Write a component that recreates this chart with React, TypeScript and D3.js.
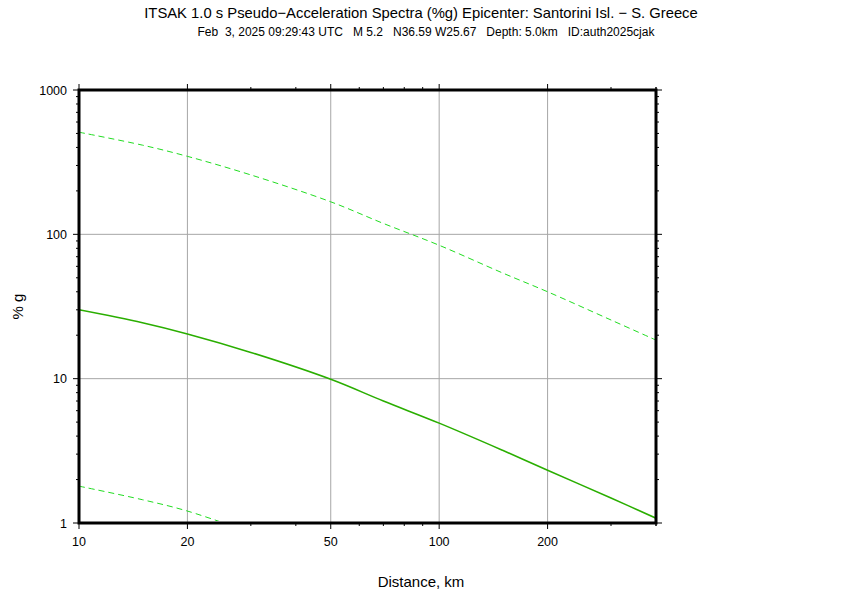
import React from "react";
import * as d3 from "d3";

const distances = [10, 15, 20, 30, 50, 70, 100, 150, 200, 300, 400];
const median = [30.0, 24.4, 20.4, 15.2, 9.9, 7.0, 4.92, 3.19, 2.32, 1.49, 1.08];
const upper = [510, 415, 347, 258, 168, 119, 84, 54, 40, 25.5, 18.5];
const lowerDist = [10, 15, 20, 30];
const lower = [1.80, 1.45, 1.21, 0.86];

const xTickLabels = [10, 20, 50, 100, 200];
const yTickLabels = [1, 10, 100, 1000];

const title = "ITSAK 1.0 s Pseudo\u2212Acceleration Spectra (%g) Epicenter: Santorini Isl. \u2212 S. Greece";
const subtitle = "Feb  3, 2025 09:29:43 UTC   M 5.2   N36.59 W25.67   Depth: 5.0km   ID:auth2025cjak";

export default function App() {
  const W = 842, H = 595;
  const left = 79, right = 656, top = 90, bottom = 523;
  const x = d3.scaleLog().domain([10, 400]).range([left, right]);
  const y = d3.scaleLog().domain([1, 1000]).range([bottom, top]);

  const xMinor: number[] = [];
  for (let d = 10; d <= 100; d *= 10) for (let k = 1; k < 10; k++) { const v = d * k; if (v >= 10 && v <= 400) xMinor.push(v); }
  xMinor.push(400);
  const yMinor: number[] = [];
  for (let d = 1; d < 1000; d *= 10) for (let k = 2; k < 10; k++) yMinor.push(d * k);

  const line = d3.line<[number, number]>().x(p => x(p[0])).y(p => y(p[1])).curve(d3.curveCatmullRom.alpha(0.5));
  const medPath = line(distances.map((d, i) => [d, median[i]] as [number, number]))!;
  const upPath = line(distances.map((d, i) => [d, upper[i]] as [number, number]))!;
  const lowPath = line(lowerDist.map((d, i) => [d, lower[i]] as [number, number]))!;

  const font = "'Liberation Sans', Arial, Helvetica, sans-serif";

  return (
    <svg width={W} height={H} style={{ position: "absolute", left: 0, top: 0, background: "#fff" }} fontFamily={font}>
      <defs>
        <clipPath id="plotclip"><rect x={left} y={top} width={right - left} height={bottom - top - 2} /></clipPath>
      </defs>
      <text x={421} y={18} textAnchor="middle" fontSize={14.8}>{title}</text>
      <text x={426} y={36} textAnchor="middle" fontSize={12} style={{ whiteSpace: "pre" }}>{subtitle}</text>

      {/* grid */}
      {xTickLabels.map(v => (
        <line key={"gx" + v} x1={x(v)} x2={x(v)} y1={top} y2={bottom} stroke="#a6a6a6" strokeWidth={1} />
      ))}
      {yTickLabels.map(v => (
        <line key={"gy" + v} x1={left} x2={right} y1={y(v)} y2={y(v)} stroke="#a6a6a6" strokeWidth={1} />
      ))}

      {/* curves */}
      <g clipPath="url(#plotclip)" fill="none">
        <path d={upPath} stroke="#22dd22" strokeWidth={1} strokeDasharray="6,4" />
        <path d={lowPath} stroke="#22dd22" strokeWidth={1} strokeDasharray="6,4" />
        <path d={medPath} stroke="#2aae00" strokeWidth={1.6} />
      </g>

      {/* ticks */}
      {xMinor.map(v => {
        const major = xTickLabels.includes(v);
        const len = major ? 6 : 3;
        return (
          <g key={"tx" + v}>
            <line x1={x(v)} x2={x(v)} y1={bottom} y2={bottom + len} stroke="#000" strokeWidth={1} />
            <line x1={x(v)} x2={x(v)} y1={top} y2={top - len} stroke="#000" strokeWidth={1} />
          </g>
        );
      })}
      {yMinor.concat(yTickLabels).map(v => {
        const major = yTickLabels.includes(v);
        const len = major ? 6 : 3;
        return (
          <g key={"ty" + v}>
            <line x1={left} x2={left - len} y1={y(v)} y2={y(v)} stroke="#000" strokeWidth={1} />
            <line x1={right} x2={right + len} y1={y(v)} y2={y(v)} stroke="#000" strokeWidth={1} />
          </g>
        );
      })}

      {/* frame */}
      <rect x={left} y={top} width={right - left} height={bottom - top} fill="none" stroke="#000" strokeWidth={3} />

      {/* labels */}
      {xTickLabels.map(v => (
        <text key={"lx" + v} x={x(v)} y={546} textAnchor="middle" fontSize={12.5}>{v}</text>
      ))}
      {yTickLabels.map(v => (
        <text key={"ly" + v} x={67} y={y(v) + 4.5} textAnchor="end" fontSize={12.5}>{v}</text>
      ))}
      <text x={421} y={587} textAnchor="middle" fontSize={15}>Distance, km</text>
      <text transform={`translate(23,${(top + bottom) / 2}) rotate(-90)`} textAnchor="middle" fontSize={15}>% g</text>
    </svg>
  );
}
